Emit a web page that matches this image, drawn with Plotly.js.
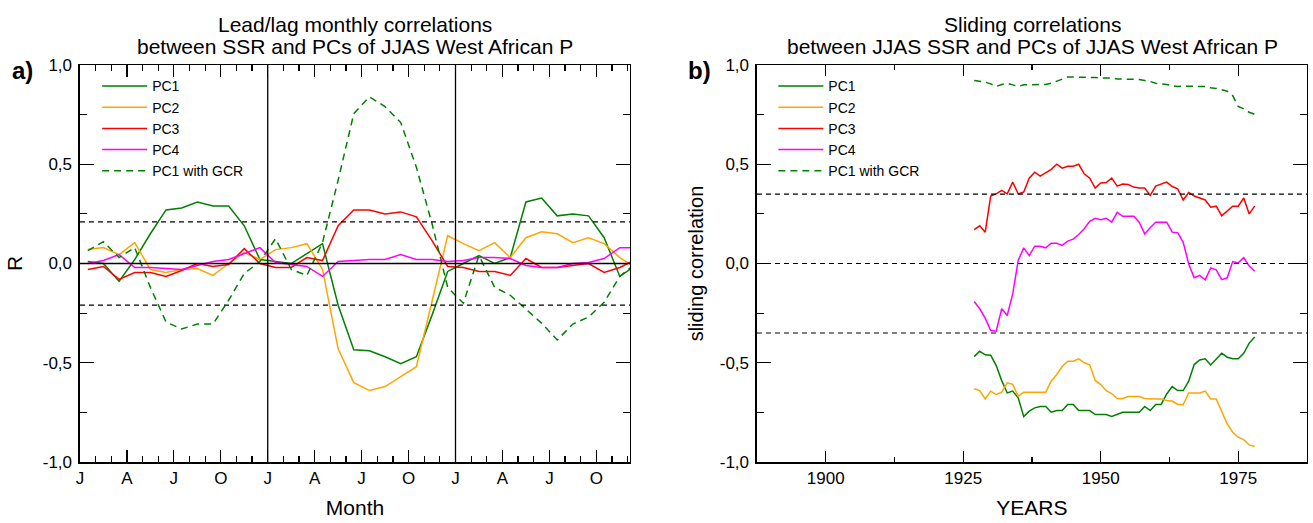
<!DOCTYPE html>
<html>
<head>
<meta charset="utf-8">
<script src="https://cdn.plot.ly/plotly-3.0.1.min.js"></script>
<style>
  html, body { margin: 0; padding: 0; background: #fff; }
  #GraphArea { width: 1313px; height: 523px; }
</style>
</head>
<body>
<div id="GraphArea"></div>
<script>
// panel a) : lead/lag monthly correlations, one value per month (mid-month), 3 years J..D
const month_pos = [0.5, 1.5, 2.5, 3.5, 4.5, 5.5, 6.5, 7.5, 8.5, 9.5, 10.5, 11.5,
    12.5, 13.5, 14.5, 15.5, 16.5, 17.5, 18.5, 19.5, 20.5, 21.5, 22.5, 23.5,
    24.5, 25.5, 26.5, 27.5, 28.5, 29.5, 30.5, 31.5, 32.5, 33.5, 34.5, 35.5];
const month_ticks = [0, 3, 6, 9, 12, 15, 18, 21, 24, 27, 30, 33];
const month_labels = ["J", "A", "J", "O", "J", "A", "J", "O", "J", "A", "J", "O"];

const lag_pc1 = [0.01, 0.0, -0.09, 0.02, 0.15, 0.27, 0.28, 0.31, 0.29, 0.29, 0.19, 0.02,
    0.01, 0.0, 0.05, 0.10, -0.21, -0.435, -0.44, -0.47, -0.505, -0.47, -0.26, -0.04,
    0.0, 0.04, 0.0, 0.03, 0.31, 0.33, 0.24, 0.25, 0.24, 0.13, -0.065, -0.01];
const lag_pc2 = [0.07, 0.08, 0.045, 0.105, -0.03, -0.045, -0.03, -0.025, -0.06, 0.0, 0.055, 0.02,
    0.07, 0.08, 0.10, -0.03, -0.43, -0.60, -0.64, -0.62, -0.57, -0.52, -0.19, 0.14,
    0.10, 0.065, 0.105, 0.03, 0.13, 0.16, 0.15, 0.105, 0.13, 0.10, 0.03, -0.02];
const lag_pc3 = [-0.03, -0.015, -0.08, -0.045, -0.045, -0.065, -0.035, 0.0, -0.015, -0.005, 0.075, 0.0,
    -0.02, -0.02, 0.03, 0.015, 0.19, 0.27, 0.27, 0.25, 0.26, 0.235, 0.115, -0.015,
    -0.02, -0.04, -0.04, -0.06, 0.025, -0.02, -0.02, -0.01, 0.0, -0.045, -0.02, 0.02];
const lag_pc4 = [0.0, 0.015, 0.045, -0.02, -0.02, -0.025, -0.03, -0.01, 0.01, 0.02, 0.05, 0.08,
    0.005, -0.005, -0.015, -0.065, 0.01, 0.015, 0.02, 0.02, 0.045, 0.02, 0.02, 0.01,
    0.015, 0.03, 0.03, 0.025, -0.01, -0.02, -0.02, 0.0, 0.005, 0.025, 0.08, 0.08];
const lag_pc1_gcr = [0.065, 0.11, 0.03, 0.08, -0.12, -0.295, -0.33, -0.305, -0.305, -0.185, -0.05, 0.01,
    0.125, -0.03, -0.06, 0.105, 0.42, 0.755, 0.84, 0.79, 0.71, 0.485, 0.2, -0.12,
    -0.2, 0.04, -0.12, -0.16, -0.23, -0.30, -0.385, -0.305, -0.27, -0.195, -0.065, 0.0];

const signif_a = [0.21, -0.21];
const year_breaks = [12, 24];

// panel b) : sliding correlations 1927..1978
const years = [1927, 1928, 1929, 1930, 1931, 1932, 1933, 1934, 1935, 1936, 1937, 1938, 1939,
    1940, 1941, 1942, 1943, 1944, 1945, 1946, 1947, 1948, 1949, 1950, 1951, 1952,
    1953, 1954, 1955, 1956, 1957, 1958, 1959, 1960, 1961, 1962, 1963, 1964, 1965,
    1966, 1967, 1968, 1969, 1970, 1971, 1972, 1973, 1974, 1975, 1976, 1977, 1978];

const slide_pc1 = [-0.469, -0.442, -0.46, -0.462, -0.514, -0.59, -0.652, -0.643, -0.677, -0.771, -0.744, -0.727,
    -0.72, -0.72, -0.749, -0.741, -0.741, -0.71, -0.71, -0.741, -0.741, -0.741, -0.761, -0.761,
    -0.761, -0.771, -0.761, -0.749, -0.749, -0.749, -0.749, -0.72, -0.741, -0.71, -0.71, -0.657,
    -0.62, -0.64, -0.64, -0.593, -0.509, -0.486, -0.48, -0.511, -0.48, -0.452, -0.472, -0.48,
    -0.48, -0.452, -0.401, -0.37];
const slide_pc2 = [-0.631, -0.64, -0.682, -0.643, -0.66, -0.648, -0.601, -0.609, -0.668, -0.648, -0.648, -0.648,
    -0.648, -0.648, -0.593, -0.559, -0.519, -0.492, -0.492, -0.48, -0.5, -0.51, -0.589, -0.61,
    -0.641, -0.655, -0.68, -0.68, -0.67, -0.67, -0.67, -0.68, -0.682, -0.682, -0.682, -0.69,
    -0.693, -0.71, -0.71, -0.652, -0.652, -0.652, -0.643, -0.682, -0.682, -0.749, -0.808, -0.85,
    -0.875, -0.887, -0.914, -0.922];
const slide_pc3 = [0.171, 0.19, 0.158, 0.34, 0.351, 0.368, 0.351, 0.41, 0.351, 0.36, 0.43, 0.46,
    0.44, 0.457, 0.474, 0.5, 0.48, 0.49, 0.49, 0.5, 0.452, 0.43, 0.38, 0.406,
    0.408, 0.43, 0.39, 0.40, 0.398, 0.385, 0.38, 0.38, 0.343, 0.39, 0.40, 0.41,
    0.388, 0.376, 0.32, 0.358, 0.34, 0.33, 0.32, 0.284, 0.289, 0.24, 0.267, 0.289,
    0.289, 0.33, 0.25, 0.289];
const slide_pc4 = [-0.191, -0.228, -0.275, -0.338, -0.341, -0.228, -0.262, -0.153, 0.015, 0.079, 0.04, 0.087,
    0.087, 0.079, 0.102, 0.102, 0.091, 0.113, 0.123, 0.146, 0.175, 0.213, 0.228, 0.22,
    0.228, 0.208, 0.258, 0.238, 0.238, 0.238, 0.208, 0.149, 0.18, 0.208, 0.208, 0.208,
    0.158, 0.155, 0.107, -0.002, -0.072, -0.06, -0.082, -0.022, -0.032, -0.081, -0.072, 0.01,
    0.003, 0.029, -0.013, -0.039];
const slide_pc1_gcr = [0.922, 0.919, 0.914, 0.905, 0.892, 0.902, 0.908, 0.9, 0.892, 0.9, 0.9, 0.9,
    0.9, 0.902, 0.908, 0.919, 0.93, 0.939, 0.939, 0.939, 0.939, 0.939, 0.937, 0.935,
    0.935, 0.935, 0.93, 0.93, 0.93, 0.93, 0.927, 0.922, 0.917, 0.908, 0.905, 0.902,
    0.895, 0.892, 0.893, 0.893, 0.893, 0.893, 0.892, 0.885, 0.882, 0.875, 0.868, 0.846,
    0.791, 0.779, 0.762, 0.751];

const signif_b = [0.35, 0.0, -0.35];
const year_ticks = [1900, 1925, 1950, 1975];

const r_ticks = [-1, -0.5, 0, 0.5, 1];
const r_labels = ["-1,0", "-0,5", "0,0", "0,5", "1,0"];

const series_names = ["PC1", "PC2", "PC3", "PC4", "PC1 with GCR"];
const series_colors = ["#008000", "#ffa500", "#ff0000", "#ff00ff", "#008000"];

const FONT = "Liberation Sans, Arial, Helvetica, sans-serif";
const plot_area = document.getElementById("GraphArea");

function make_traces(xs, ys_list, xa, ya, legend_id){
    let traces = [];
    for(let i = 0; i < ys_list.length; ++i){
        traces.push({
            x: xs,
            y: ys_list[i],
            type: 'scatter',
            mode: 'lines',
            name: series_names[i],
            xaxis: xa,
            yaxis: ya,
            legend: legend_id,
            line: {color: series_colors[i], width: 1.5, dash: (i == 4 ? '7px,5px' : 'solid')},
            hoverinfo: 'skip'
        });
    }
    return traces;
}

var traces = make_traces(month_pos, [lag_pc1, lag_pc2, lag_pc3, lag_pc4, lag_pc1_gcr], 'x', 'y', 'legend')
    .concat(make_traces(years, [slide_pc1, slide_pc2, slide_pc3, slide_pc4, slide_pc1_gcr], 'x2', 'y2', 'legend2'));

var shapes = [];
signif_a.forEach((v) => shapes.push({type: 'line', xref: 'x domain', yref: 'y', x0: 0, x1: 1, y0: v, y1: v,
    line: {color: 'black', width: 1.2, dash: '5px,4px'}}));
shapes.push({type: 'line', xref: 'x domain', yref: 'y', x0: 0, x1: 1, y0: 0, y1: 0,
    line: {color: 'black', width: 1.3}});
year_breaks.forEach((v) => shapes.push({type: 'line', xref: 'x', yref: 'y domain', x0: v, x1: v, y0: 0, y1: 1,
    line: {color: 'black', width: 1.3}}));
signif_b.forEach((v) => shapes.push({type: 'line', xref: 'x2 domain', yref: 'y2', x0: 0, x1: 1, y0: v, y1: v,
    line: {color: 'black', width: 1.2, dash: '5px,4px'}}));

function base_axis(extra){
    return Object.assign({
        showline: true, linecolor: 'black', linewidth: 1.5, mirror: 'ticks',
        ticks: 'inside', tickcolor: 'black', tickwidth: 1.2,
        showgrid: false, zeroline: false, fixedrange: true,
        tickfont: {family: FONT, size: 17, color: 'black'}
    }, extra);
}

function title_note(txt, xpix, ypix, size, bold){
    return {text: bold ? '<b>' + txt + '</b>' : txt, xref: 'paper', yref: 'paper',
        x: xpix / 1313, y: 1 - ypix / 523, xanchor: 'center', yanchor: 'middle',
        showarrow: false, font: {family: FONT, size: size, color: 'black'}};
}

var layout = {
    width: 1313, height: 523,
    margin: {l: 0, r: 0, t: 0, b: 0},
    paper_bgcolor: 'white', plot_bgcolor: 'white',
    font: {family: FONT, color: 'black'},
    showlegend: true,
    xaxis: base_axis({domain: [0.0609, 0.4798], anchor: 'y', range: [0, 35.15],
        tickmode: 'array', tickvals: month_ticks, ticktext: month_labels, ticklen: 12,
        minor: {tick0: 0, dtick: 1, ticklen: 6, ticks: 'inside', tickcolor: 'black', tickwidth: 1.2},
        title: {text: 'Month', font: {family: FONT, size: 21}, standoff: 13}}),
    yaxis: base_axis({domain: [0.1166, 0.8757], anchor: 'x', range: [-1, 1],
        tickmode: 'array', tickvals: r_ticks, ticktext: r_labels, ticklen: 14, ticklabelstandoff: 3,
        minor: {tick0: 0, dtick: 0.25, ticklen: 7, ticks: 'inside', tickcolor: 'black', tickwidth: 1.2},
        title: {text: 'R', font: {family: FONT, size: 21}, standoff: 14}}),
    xaxis2: base_axis({domain: [0.5765, 0.9954], anchor: 'y2', range: [1887.5, 1987.5],
        tickmode: 'array', tickvals: year_ticks, ticklen: 11,
        minor: {tick0: 1900, dtick: 12.5, ticklen: 5, ticks: 'inside', tickcolor: 'black', tickwidth: 1.2},
        title: {text: 'YEARS', font: {family: FONT, size: 21}, standoff: 13}}),
    yaxis2: base_axis({domain: [0.1166, 0.8757], anchor: 'x2', range: [-1, 1],
        tickmode: 'array', tickvals: r_ticks, ticktext: r_labels, ticklen: 14, ticklabelstandoff: 3,
        minor: {tick0: 0, dtick: 0.25, ticklen: 7, ticks: 'inside', tickcolor: 'black', tickwidth: 1.2},
        title: {text: 'sliding correlation', font: {family: FONT, size: 20}, standoff: 10}}),
    legend: {x: 0.074, y: 0.8654, xanchor: 'left', yanchor: 'top', bgcolor: 'rgba(0,0,0,0)',
        font: {family: FONT, size: 14}, tracegroupgap: 0, itemwidth: 45},
    legend2: {x: 0.589, y: 0.8654, xanchor: 'left', yanchor: 'top', bgcolor: 'rgba(0,0,0,0)',
        font: {family: FONT, size: 14}, tracegroupgap: 0, itemwidth: 45},
    shapes: shapes,
    annotations: [
        title_note('Lead/lag monthly correlations', 355, 24, 21),
        title_note('between SSR and PCs of JJAS West African P', 355, 47, 21),
        title_note('Sliding correlations', 1032, 24, 21),
        title_note('between JJAS SSR and PCs of JJAS West African P', 1032, 47, 21),
        title_note('a)', 22, 70, 24, true),
        title_note('b)', 699, 70, 24, true)
    ]
};

Plotly.newPlot(plot_area, traces, layout, {staticPlot: true, displayModeBar: false});
</script>
</body>
</html>
